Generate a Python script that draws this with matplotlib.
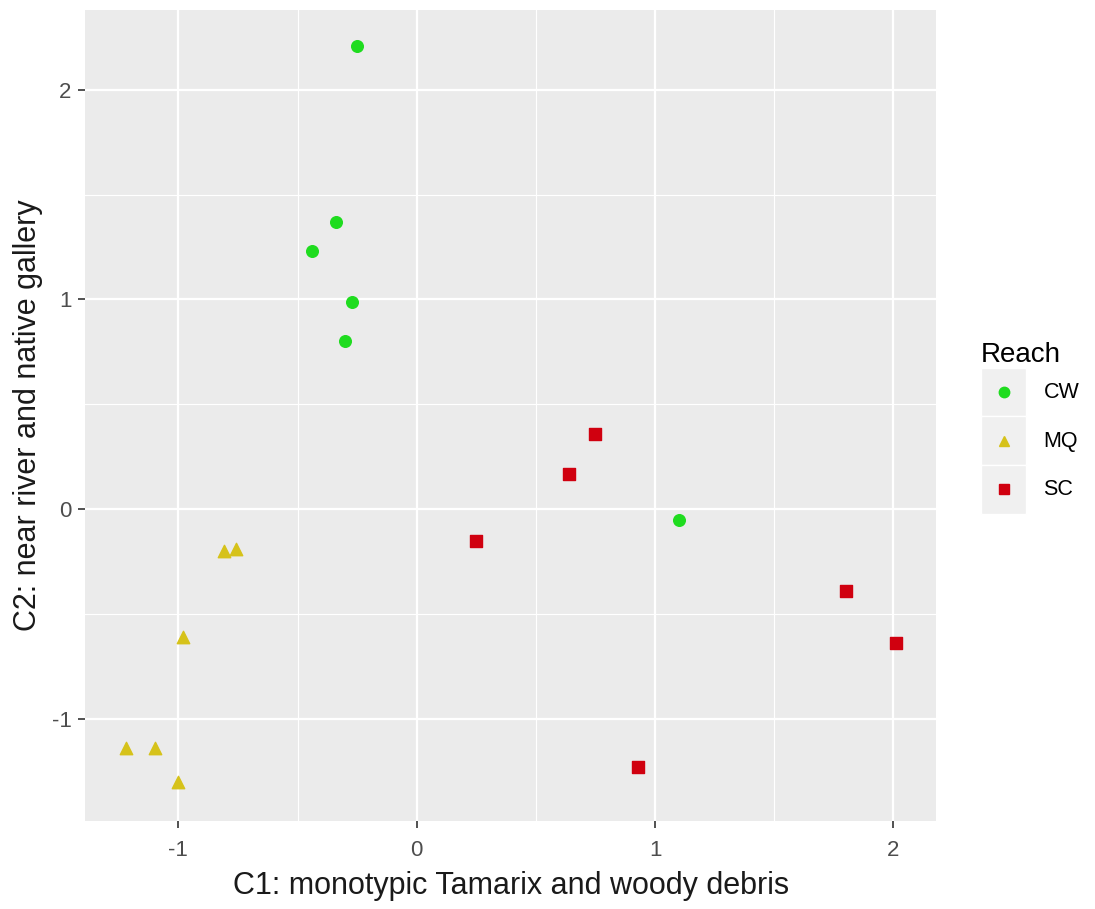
import matplotlib.pyplot as plt
from matplotlib.patches import Rectangle
from matplotlib.lines import Line2D
from matplotlib.legend_handler import HandlerBase

plt.rcParams['font.family'] = ['Liberation Sans', 'DejaVu Sans']
plt.rcParams['axes.unicode_minus'] = False

# C1 / C2 scores per reach
cw_c1 = [-0.25, -0.34, -0.44, -0.27, -0.30, 1.10]
cw_c2 = [2.21, 1.37, 1.23, 0.99, 0.80, -0.05]
mq_c1 = [-1.22, -1.10, -1.00, -0.98, -0.81, -0.76]
mq_c2 = [-1.14, -1.14, -1.30, -0.61, -0.20, -0.19]
sc_c1 = [0.25, 0.64, 0.75, 0.93, 1.80, 2.01]
sc_c2 = [-0.15, 0.17, 0.36, -1.23, -0.39, -0.64]

reaches = ['CW', 'MQ', 'SC']
colors = ['#1fdc1f', '#d6c21a', '#d0000f']
markers = ['o', '^', 's']
sizes = [70, 80, 65]


class Key:
    def __init__(self, color, marker):
        self.color = color
        self.marker = marker


class KeyHandler(HandlerBase):
    # grey key box with the marker centred in it, like ggplot
    def create_artists(self, legend, orig_handle, xdescent, ydescent,
                       width, height, fontsize, trans):
        rect = Rectangle((-xdescent, -ydescent), width, height,
                         facecolor='#f0f0f0', edgecolor='white',
                         linewidth=1, transform=trans)
        mk = Line2D([width / 2 - xdescent], [height / 2 - ydescent],
                    linestyle='none', marker=orig_handle.marker,
                    markersize=7.5, color=orig_handle.color, transform=trans)
        return [rect, mk]


fig = plt.figure(figsize=(10.95, 9.09), dpi=100)
ax = fig.add_axes([0.078, 0.097, 0.777, 0.892])
ax.set_facecolor('#ebebeb')

for xs, ys, r, c, m, s in zip([cw_c1, mq_c1, sc_c1], [cw_c2, mq_c2, sc_c2],
                              reaches, colors, markers, sizes):
    ax.scatter(xs, ys, marker=m, s=s, color=c, label=r, zorder=3)

ax.set_xticks([-1, 0, 1, 2])
ax.set_yticks([-1, 0, 1, 2])
ax.set_xticks([-1.5, -0.5, 0.5, 1.5], minor=True)
ax.set_yticks([-1.5, -0.5, 0.5, 1.5], minor=True)
ax.set_xlim(-1.39, 2.18)
ax.set_ylim(-1.486, 2.38)
ax.grid(True, which='major', color='white', linewidth=1.6)
ax.grid(True, which='minor', color='white', linewidth=0.8)
ax.set_axisbelow(True)
for s in ax.spines.values():
    s.set_visible(False)
ax.tick_params(which='major', length=5, width=1.2, color='#333333',
               labelsize=16, labelcolor='#4d4d4d')
ax.tick_params(axis='x', which='major', pad=9)
ax.tick_params(axis='y', which='major', pad=5)
ax.tick_params(which='minor', length=0)

ax.set_xlabel('C1: monotypic Tamarix and woody debris', fontsize=22, color='#1a1a1a', labelpad=7)
ax.set_ylabel('C2: near river and native gallery', fontsize=22, color='#1a1a1a', labelpad=6)

handles = [Key(c, m) for c, m in zip(colors, markers)]
leg = ax.legend(handles, reaches, title='Reach', loc='center left',
                bbox_to_anchor=(1.03, 0.485), frameon=False, fontsize=15.5,
                title_fontsize=20, handletextpad=0.8, labelspacing=0.0,
                handlelength=2.1, handleheight=3.1,
                handler_map={Key: KeyHandler()})
leg._legend_box.align = 'left'

fig.savefig('out.png', dpi=100)
